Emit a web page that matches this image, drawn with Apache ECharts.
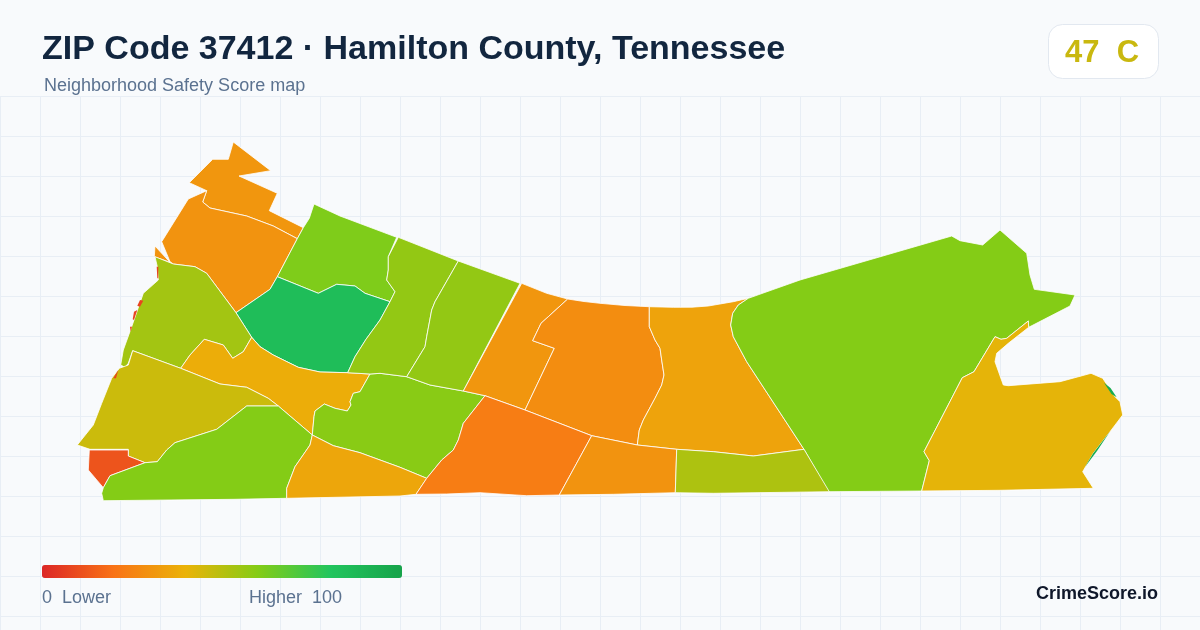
<!DOCTYPE html>
<html><head><meta charset="utf-8">
<style>html,body{margin:0;padding:0;background:#f8fafc}#c{width:1200px;height:630px}</style>
<script src="https://cdn.jsdelivr.net/npm/echarts@6/dist/echarts.min.js"></script>
</head><body><div id="c"></div>
<script>
const areaNames = ['A','B','C','D','E','F','G','H','I','J','K','L','M','N','O','P','Q','R','S','T','U','WestSliver','EastSliver'];
const areaScores = [31,30,61,85,54,38,46,12,60,59,36,57,57,31,28,35,60,41,23,30,52,8,95];
const legendMin = 0, legendMax = 100;
const rampColors = ['#dc2626','#f97316','#eab308','#84cc16','#22c55e','#16a34a'];
const titleText = 'ZIP Code 37412 · Hamilton County, Tennessee';
const subtitleText = 'Neighborhood Safety Score map';
const gradeText = '47  C';

// Boundary outlines, in map units
const areaRings = {
A:[[[233.3,142],[270.7,170.7],[239,176],[277.3,193.3],[269.3,210.7],[303.3,227.7],[297.3,238.7],[273.3,226],[246.7,216],[210,208],[202.7,202],[206.7,190.7],[189.3,182.7],[212.7,159.3],[228.3,159.3]]],
B:[[[206.7,190.7],[202.7,202],[210,208],[246.7,216],[273.3,226],[297.3,238.7],[277.3,276.7],[270,289.3],[236,312.7],[206.7,273.3],[195,266.7],[173.3,264],[170,261.7],[161.7,241.7],[188.3,199]],[[155,246],[170,262.3],[154.3,256.7]]],
C:[[[314,204],[340,216],[396.7,237.3],[388.3,256.7],[388.3,270],[386.7,280],[395,291.7],[390,301.7],[365,293.3],[355,286],[336.7,284.3],[318.3,293.3],[277.3,276.7],[297.3,238.7],[303.3,227.7],[309.3,218.3]]],
D:[[[277.3,276.7],[318.3,293.3],[336.7,284.3],[355,286],[365,293.3],[390,301.7],[380,320],[366,339.3],[355,356.7],[347.7,372.7],[320,372],[298.3,367.3],[273.3,355],[260,346.7],[251.7,337.3],[236,312.7],[270,289.3]]],
E:[[[155,256.7],[173.3,264],[195,266.7],[206.7,273.3],[236,312.7],[251.7,337.3],[243.3,351.7],[232.7,358.3],[223.3,345],[204.3,339.3],[190,355],[180.7,368.3],[132.7,350.7],[128.3,363.3],[125,367.3],[120.7,365],[123.3,350],[131.7,326.7],[143.3,293.3],[158.3,280],[157.3,266.7]]],
F:[[[251.7,337.3],[260,346.7],[273.3,355],[298.3,367.3],[320,372],[347.7,372.7],[370,374],[360,391.7],[353.3,393.3],[350,401.7],[351,405],[347.3,411],[335,408.3],[324.3,404],[315,411],[314,416.7],[312.3,435],[278.3,406],[268.3,398.3],[246.7,387.3],[220,384],[180.7,368.3],[190,355],[204.3,339.3],[223.3,345],[232.7,358.3],[243.3,351.7]]],
G:[[[132.7,350.7],[180.7,368.3],[220,384],[246.7,387.3],[268.3,398.3],[278.3,406],[246.7,406],[216.7,429.3],[175,442.7],[166.7,450],[157.3,461.7],[145,462.7],[128.3,456],[128.3,449.3],[90,449.3],[77.3,445],[93.3,425],[101.7,403.3],[111.7,378.3],[119.3,368.3],[128.3,365]]],
H:[[[89.3,450],[128.3,450],[128.3,456],[145,462.7],[110,475.7],[103.3,487.7],[88.3,470]]],
I:[[[110,475.7],[145,462.7],[157.3,461.7],[166.7,450],[175,442.7],[216.7,429.3],[246.7,406],[278.3,406],[312.3,435],[310,445],[295,466.7],[286.7,488.3],[286.7,498.3],[235,499.3],[103.3,500.7],[101.7,493.3],[103.3,487.7]]],
J:[[[370,374],[380,373.3],[406.7,376.7],[430,385],[463.3,391],[485,395.7],[463.3,423.3],[458.3,440],[453.3,450],[441.7,460],[426.7,478.3],[400,467.3],[380,460],[360,452.7],[333.3,445.7],[312.3,435],[314,416.7],[315,411],[324.3,404],[335,408.3],[347.3,411],[351,405],[350,401.7],[353.3,393.3],[360,391.7]]],
K:[[[312.3,435],[333.3,445.7],[360,452.7],[380,460],[400,467.3],[426.7,478.3],[416,494.3],[400,496],[286.7,498.3],[286.7,488.3],[295,466.7],[310,445]]],
L:[[[398.3,237.3],[458.3,261],[435,301.7],[431.7,310],[426.7,336.7],[425,346.7],[406.7,376.7],[380,373.3],[370,374],[347.7,372.7],[355,356.7],[366,339.3],[380,320],[390,301.7],[395,291.7],[386.7,280],[388.3,270],[388.3,256.7]]],
M:[[[458.3,261],[520,283.3],[463.3,391],[430,385],[406.7,376.7],[425,346.7],[426.7,336.7],[431.7,310],[435,301.7]]],
N:[[[521.7,283.3],[546.7,293.3],[567.7,299],[548.3,316.7],[541,323.3],[532.7,340.7],[554.3,348.3],[525,410],[485,395.7],[463.3,391]]],
O:[[[567.7,299],[584,301.5],[600,303.3],[625,305.5],[649.3,306.7],[649.3,326.7],[655,340],[660,348.3],[661.7,360],[664,375],[661.7,385],[655,398.3],[643.3,420],[639.3,430],[637.3,445],[591.7,435.7],[525,410],[554.3,348.3],[532.7,340.7],[541,323.3],[548.3,316.7]]],
P:[[[649.3,306.7],[673.3,307.3],[692,307.2],[708.3,306],[733.3,301.7],[748.3,298.3],[738.3,305],[732.7,313.3],[730.7,325],[733.3,336.7],[746.7,361.7],[804,449.3],[753.3,456],[713.3,451.7],[676.7,449.3],[637.3,445],[639.3,430],[643.3,420],[655,398.3],[661.7,385],[664,375],[661.7,360],[660,348.3],[655,340],[649.3,326.7]]],
Q:[[[748.3,298.3],[800,280],[951.7,236],[960,240.7],[982.7,245],[1000,230],[1026.7,253.3],[1030,275],[1034.3,289.3],[1075,295],[1070,306],[1028.7,327.3],[1028.3,321],[1006.7,338.3],[1001,339.3],[995,336.7],[974,371.7],[962.3,377.7],[924,451.7],[929.3,460.7],[921.7,491],[828.3,491.7],[804,449.3],[746.7,361.7],[733.3,336.7],[730.7,325],[732.7,313.3],[738.3,305]]],
R:[[[995,336.7],[1001,339.3],[1006.7,338.3],[1028.3,321],[1028.7,327.3],[1008.3,343.3],[996.7,353.3],[995,361.7],[1003.3,385],[1008.3,385.7],[1060,381.7],[1091,373.3],[1102.7,378.3],[1115,396.7],[1120,401.7],[1122.7,415],[1110,431.7],[1093.3,453.3],[1082.7,471.7],[1093.3,488.3],[1000,490.3],[921.7,491],[929.3,460.7],[924,451.7],[962.3,377.7],[974,371.7]]],
S:[[[485,395.7],[525,410],[591.7,435.7],[559.3,495],[526.7,495.7],[480,492.7],[446.7,494],[416,494.3],[426.7,478.3],[441.7,460],[453.3,450],[458.3,440],[463.3,423.3]]],
T:[[[591.7,435.7],[637.3,445],[676.7,449.3],[675.3,492.7],[613.3,494.3],[559.3,495]]],
U:[[[676.7,449.3],[713.3,451.7],[753.3,456],[804,449.3],[829.3,491.7],[713.3,493.3],[675.3,492.7]]],
WestSliver:[[[140,300],[143.3,300.7],[140,306.7],[137.3,305.7]],[[134,311.7],[137.3,310],[134,320],[132.7,319.3]],[[130,326.7],[132,326.7],[130.7,331.7]],[[113.3,378.3],[118.3,370],[119.3,370.7],[116,378.3]],[[156.7,266.7],[158.3,266.7],[158.3,278.3],[157.3,278.3]]],
EastSliver:[[[1104,382.7],[1110.5,388],[1116.7,397.3],[1111.5,394]],[[1110,431.5],[1097,451],[1085,467],[1093,453.5]]]
};

const geoJson = {type:'FeatureCollection',features:areaNames.map(n=>({
  type:'Feature',properties:{name:n},
  geometry:{type:'MultiPolygon',coordinates:areaRings[n].map(r=>[r])}
}))};
echarts.registerMap('zip37412',geoJson);

const FONT = '"Liberation Sans", Arial, sans-serif';
const gridEls = [];
for (let x=0;x<=1200;x+=40) gridEls.push({type:'line',silent:true,z:-10,shape:{x1:x+.5,y1:96,x2:x+.5,y2:630},style:{stroke:'#e8eef5',lineWidth:1}});
for (let y=96;y<=630;y+=40) gridEls.push({type:'line',silent:true,z:-10,shape:{x1:0,y1:y+.5,x2:1200,y2:y+.5},style:{stroke:'#e8eef5',lineWidth:1}});

const chart = echarts.init(document.getElementById('c'),null,{renderer:'canvas',width:1200,height:630});
chart.setOption({
  backgroundColor:'#f8fafc',
  animation:false,
  title:[
    {text:titleText,left:42,top:33,padding:0,textStyle:{fontFamily:FONT,fontSize:34,fontWeight:'bold',color:'#12263f'}},
    {text:subtitleText,left:44,top:77,padding:0,textStyle:{fontFamily:FONT,fontSize:18,fontWeight:'normal',color:'#5b7290'}}
  ],
  visualMap:{
    type:'continuous',min:legendMin,max:legendMax,orient:'horizontal',left:42,top:565,
    itemWidth:13,itemHeight:360,padding:0,borderRadius:0,calculable:false,realtime:false,hoverLink:false,
    showLabel:false,text:null,
    inRange:{color:rampColors}
  },
  series:[{
    type:'map',map:'zip37412',
    projection:{project:p=>p,unproject:p=>p},
    boundingCoords:[[0,0],[1200,630]],
    layoutCenter:['50%','50%'],layoutSize:1200,
    roam:false,selectedMode:false,silent:true,z:2,
    label:{show:false},
    itemStyle:{borderColor:'#ffffff',borderWidth:0.8},
    emphasis:{disabled:true},
    data:areaNames.map((n,i)=>({name:n,value:areaScores[i],
      itemStyle:n.endsWith('Sliver')?{borderWidth:0}:undefined}))
  }],
  graphic:[...gridEls,
    {type:'rect',z:5,shape:{x:1048.5,y:24.5,width:110,height:54,r:14},style:{fill:'#ffffff',stroke:'#e2e8f0',lineWidth:1}},
    {type:'text',z:6,left:1065,top:38,style:{text:gradeText,font:'bold 31px '+FONT,fill:'#c9b80f'}},
    {type:'text',z:6,left:42,top:589,style:{text:'0  Lower',font:'18px '+FONT,fill:'#5b7290'}},
    {type:'text',z:6,left:249,top:589,style:{text:'Higher  100',font:'18px '+FONT,fill:'#5b7290'}},
    {type:'text',z:6,left:1036,top:585,style:{text:'CrimeScore.io',font:'bold 18px '+FONT,fill:'#0f172a'}}
  ]
});
</script></body></html>
